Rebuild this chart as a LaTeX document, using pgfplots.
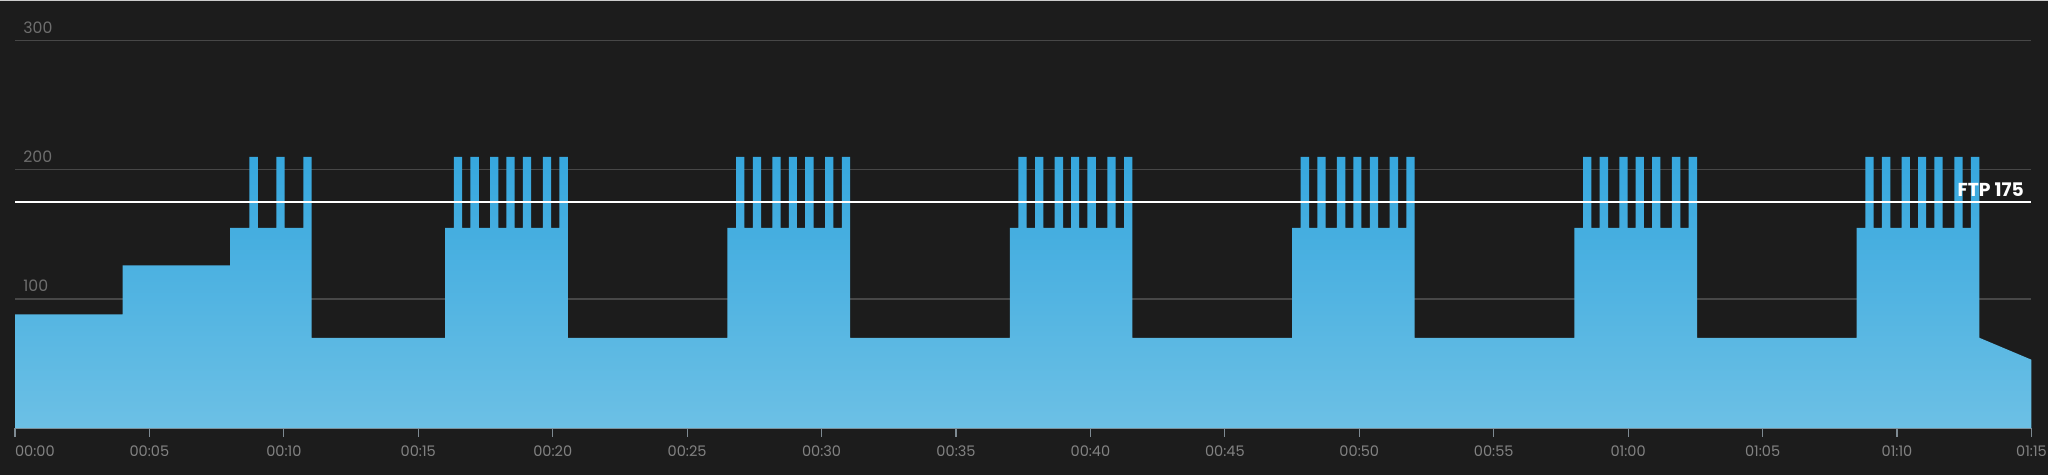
\documentclass[border=0pt]{standalone}
\usepackage{fontspec}
\setmainfont{Poppins}
\usepackage{pgfplots}
\pgfplotsset{compat=1.18}
\definecolor{bg}{HTML}{1C1C1C}
\definecolor{gridc}{HTML}{474747}
\definecolor{ylab}{HTML}{6E6E6E}
\definecolor{xlab}{HTML}{828282}
\definecolor{axc}{HTML}{7E8A92}
\definecolor{ftop}{HTML}{36A7DE}
\definecolor{fbot}{HTML}{6CC0E5}
\begin{document}
\begin{tikzpicture}
\useasboundingbox (0,0) rectangle (1024bp,237.5bp);
\fill[bg] (0,0) rectangle (1024bp,237.5bp);
\draw[color=black!20, line width=0.6bp] (0,237.2bp) -- (1024bp,237.2bp);
\begin{axis}[
  at={(7.5bp,23.4bp)}, anchor=south west, scale only axis,
  width=1008.25bp, height=213.2bp,
  xmin=0, xmax=75, ymin=0, ymax=330,
  axis x line=bottom, axis y line=left,
  axis line style={-, draw=axc, line width=0.75bp},
  y axis line style={draw=none},
  xtick={0,5,...,75},
  xticklabels={\rlap{00:00},00:05,00:10,00:15,00:20,00:25,00:30,00:35,00:40,00:45,00:50,00:55,01:00,01:05,01:10,01:15},
  ytick={100,200,300},
  yticklabels={100,200,300},
  ymajorgrids,
  grid style={draw=gridc, line width=0.6bp},
  x tick style={draw=axc, line width=0.6bp},
  tick align=outside,
  major tick length=4.5bp,
  y tick style={draw=none},
  xticklabel style={font=\fontsize{7.3}{9}\selectfont, text=xlab, anchor=center, inner sep=0pt, yshift=-7.2bp},
  yticklabel style={font=\fontsize{7.9}{9}\selectfont, text=ylab, anchor=west, inner sep=0pt, xshift=8.5bp, yshift=6.5bp},
  clip=false,
]
\addplot[draw=none, top color=ftop, bottom color=fbot] coordinates {
(0,0) (0,88) (4,88) (4,126) (8,126) (8,155)
(8.72,155) (8.72,210) (9.03,210) (9.03,155)
(9.72,155) (9.72,210) (10.03,210) (10.03,155)
(10.73,155) (10.73,210) (11.03,210) (11.03,70)
(16,70) (16,155)
(16.32,155) (16.32,210) (16.63,210) (16.63,155)
(16.94,155) (16.94,210) (17.25,210) (17.25,155)
(17.67,155) (17.67,210) (17.98,210) (17.98,155)
(18.28,155) (18.28,210) (18.58,210) (18.58,155)
(18.89,155) (18.89,210) (19.20,210) (19.20,155)
(19.63,155) (19.63,210) (19.94,210) (19.94,155)
(20.25,155) (20.25,210) (20.56,210) (20.56,70)
(26.5,70) (26.5,155)
(26.82,155) (26.82,210) (27.13,210) (27.13,155)
(27.44,155) (27.44,210) (27.75,210) (27.75,155)
(28.17,155) (28.17,210) (28.48,210) (28.48,155)
(28.78,155) (28.78,210) (29.08,210) (29.08,155)
(29.39,155) (29.39,210) (29.70,210) (29.70,155)
(30.13,155) (30.13,210) (30.44,210) (30.44,155)
(30.75,155) (30.75,210) (31.06,210) (31.06,70)
(37,70) (37,155)
(37.32,155) (37.32,210) (37.63,210) (37.63,155)
(37.94,155) (37.94,210) (38.25,210) (38.25,155)
(38.67,155) (38.67,210) (38.98,210) (38.98,155)
(39.28,155) (39.28,210) (39.58,210) (39.58,155)
(39.89,155) (39.89,210) (40.20,210) (40.20,155)
(40.63,155) (40.63,210) (40.94,210) (40.94,155)
(41.25,155) (41.25,210) (41.56,210) (41.56,70)
(47.5,70) (47.5,155)
(47.82,155) (47.82,210) (48.13,210) (48.13,155)
(48.44,155) (48.44,210) (48.75,210) (48.75,155)
(49.17,155) (49.17,210) (49.48,210) (49.48,155)
(49.78,155) (49.78,210) (50.08,210) (50.08,155)
(50.39,155) (50.39,210) (50.70,210) (50.70,155)
(51.13,155) (51.13,210) (51.44,210) (51.44,155)
(51.75,155) (51.75,210) (52.06,210) (52.06,70)
(58,70) (58,155)
(58.32,155) (58.32,210) (58.63,210) (58.63,155)
(58.94,155) (58.94,210) (59.25,210) (59.25,155)
(59.67,155) (59.67,210) (59.98,210) (59.98,155)
(60.28,155) (60.28,210) (60.58,210) (60.58,155)
(60.89,155) (60.89,210) (61.20,210) (61.20,155)
(61.63,155) (61.63,210) (61.94,210) (61.94,155)
(62.25,155) (62.25,210) (62.56,210) (62.56,70)
(68.5,70) (68.5,155)
(68.82,155) (68.82,210) (69.13,210) (69.13,155)
(69.44,155) (69.44,210) (69.75,210) (69.75,155)
(70.17,155) (70.17,210) (70.48,210) (70.48,155)
(70.78,155) (70.78,210) (71.08,210) (71.08,155)
(71.39,155) (71.39,210) (71.70,210) (71.70,155)
(72.13,155) (72.13,210) (72.44,210) (72.44,155)
(72.75,155) (72.75,210) (73.06,210) (73.06,70)
(75,53) (75,0)
} -- cycle;
\addplot[white, line width=0.8bp] coordinates {(0,175) (75,175)};
\node[anchor=south east, inner sep=0pt, text=white, font=\fontsize{9.4}{11}\selectfont\bfseries] at (axis cs:74.73,175) [yshift=2.6bp] {FTP 175};
\end{axis}
\end{tikzpicture}
\end{document}
